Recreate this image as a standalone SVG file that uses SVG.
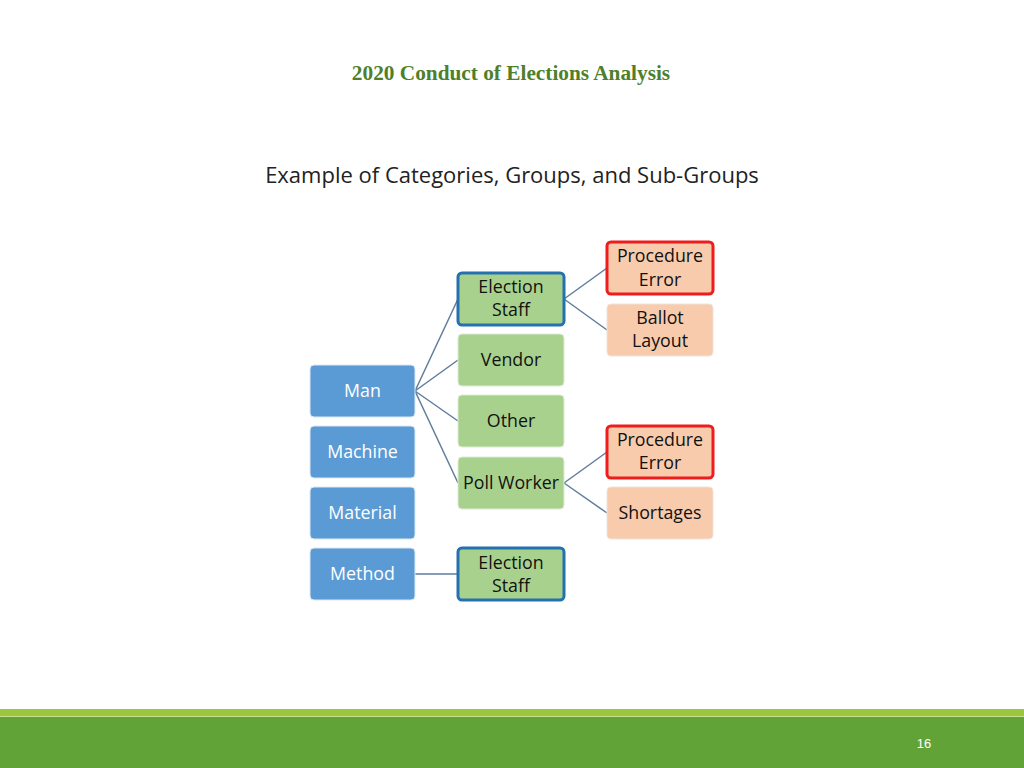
<svg xmlns="http://www.w3.org/2000/svg" width="1024" height="768" viewBox="0 0 1024 768">
<style>
.b{fill:#5B9BD5;stroke:#DDE8F4;stroke-width:1}
.g{fill:#A9D18E;stroke:#DCEBD2;stroke-width:1}
.gs{fill:#A9D18E;stroke:#2471B0;stroke-width:3}
.o{fill:#F8CBAD;stroke:#EFE3DA;stroke-width:1}
.or{fill:#F8CBAD;stroke:#EE1C1C;stroke-width:3}
.tw{font-family:"Open Sans","Liberation Sans",sans-serif;font-size:17.8px;fill:#FFFFFF;text-anchor:middle}
.tk{font-family:"Open Sans","Liberation Sans",sans-serif;font-size:17.8px;fill:#111111;text-anchor:middle}
.c line{stroke:#5F7D9C;stroke-width:1.5}
</style>
<rect width="1024" height="768" fill="#FFFFFF"/>
<text x="511" y="80" font-family="Liberation Serif,serif" font-weight="bold" font-size="21.3" fill="#4E7F2A" text-anchor="middle">2020 Conduct of Elections Analysis</text>
<text x="512" y="183" font-family="Open Sans,Liberation Sans,sans-serif" font-size="22" fill="#222222" text-anchor="middle">Example of Categories, Groups, and Sub-Groups</text>
<g class="c">
<line x1="415" y1="391" x2="458" y2="299"/>
<line x1="415" y1="391" x2="458" y2="360"/>
<line x1="415" y1="391" x2="458" y2="421"/>
<line x1="415" y1="391" x2="458" y2="483"/>
<line x1="564" y1="299" x2="607" y2="268"/>
<line x1="564" y1="299" x2="607" y2="330"/>
<line x1="564" y1="483" x2="607" y2="452"/>
<line x1="564" y1="483" x2="607" y2="513"/>
<line x1="415" y1="574" x2="458" y2="574"/>
</g>
<g id="man"><rect class="b" x="310" y="365" width="105" height="52" rx="4"/><text class="tw" x="362.5" y="397">Man</text></g>
<g id="machine"><rect class="b" x="310" y="426" width="105" height="52" rx="4"/><text class="tw" x="362.5" y="458">Machine</text></g>
<g id="material"><rect class="b" x="310" y="487" width="105" height="52" rx="4"/><text class="tw" x="362.5" y="519">Material</text></g>
<g id="method"><rect class="b" x="310" y="548" width="105" height="52" rx="4"/><text class="tw" x="362.5" y="580">Method</text></g>
<g id="election-staff-1"><rect class="gs" x="458" y="273" width="106" height="52" rx="4"/><text class="tk" x="511" y="293">Election</text><text class="tk" x="511" y="316">Staff</text></g>
<g id="vendor"><rect class="g" x="458" y="334" width="106" height="52" rx="4"/><text class="tk" x="511" y="366">Vendor</text></g>
<g id="other"><rect class="g" x="458" y="395" width="106" height="52" rx="4"/><text class="tk" x="511" y="427">Other</text></g>
<g id="poll-worker"><rect class="g" x="458" y="457" width="106" height="52" rx="4"/><text class="tk" x="511" y="489">Poll Worker</text></g>
<g id="election-staff-2"><rect class="gs" x="458" y="548" width="106" height="52" rx="4"/><text class="tk" x="511" y="569">Election</text><text class="tk" x="511" y="592">Staff</text></g>
<g id="procedure-error-1"><rect class="or" x="607" y="242" width="106" height="52" rx="4"/><text class="tk" x="660" y="262">Procedure</text><text class="tk" x="660" y="286">Error</text></g>
<g id="ballot-layout"><rect class="o" x="607" y="304" width="106" height="52" rx="4"/><text class="tk" x="660" y="324">Ballot</text><text class="tk" x="660" y="347">Layout</text></g>
<g id="procedure-error-2"><rect class="or" x="607" y="426" width="106" height="52" rx="4"/><text class="tk" x="660" y="446">Procedure</text><text class="tk" x="660" y="469">Error</text></g>
<g id="shortages"><rect class="o" x="607" y="487" width="106" height="52" rx="4"/><text class="tk" x="660" y="519">Shortages</text></g>
<g id="footer">
<rect x="0" y="709" width="1024" height="8" fill="#9DC63F"/>
<line x1="0" y1="716.5" x2="1024" y2="716.5" stroke="#C5E08A" stroke-width="1"/>
<rect x="0" y="717" width="1024" height="51" fill="#62A337"/>
<text x="924" y="748" font-family="Liberation Sans Narrow,Liberation Sans,sans-serif" font-size="13" fill="#FFFFFF" text-anchor="middle">16</text>
</g>
</svg>
